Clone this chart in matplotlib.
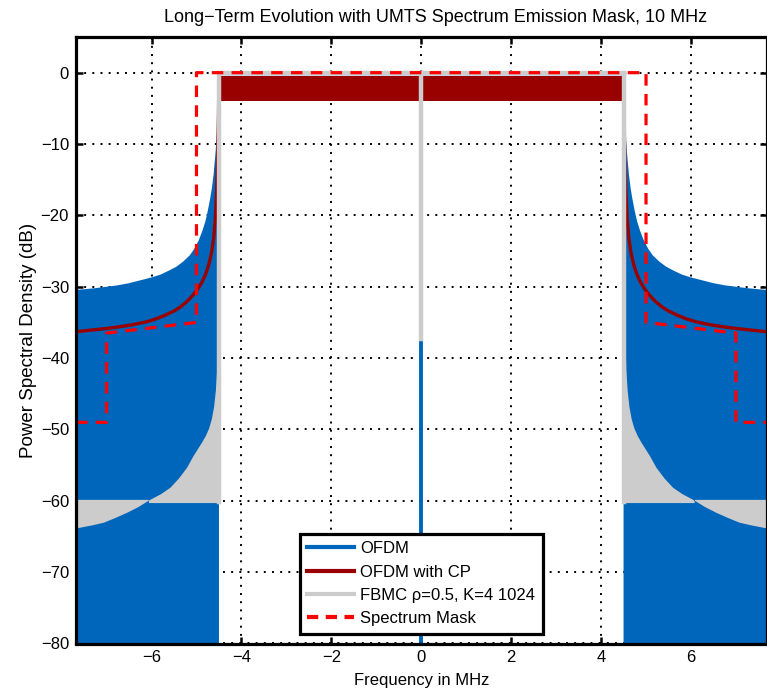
import matplotlib
matplotlib.use("Agg")
import matplotlib.pyplot as plt
from matplotlib.lines import Line2D

plt.rcParams['font.family'] = ['Liberation Sans', 'DejaVu Sans']

# ---------------- data ----------------
x_limits = [-7.68, 7.68]
y_limits = [-80, 5]
x_ticks = [-6, -4, -2, 0, 2, 4, 6]
y_ticks = [0, -10, -20, -30, -40, -50, -60, -70, -80]

band_edge_mhz = 4.5

# OFDM (no CP): upper envelope of the rapidly oscillating out-of-band PSD (left side)
ofdm_env_x = [-4.5, -4.52, -4.55, -4.58, -4.62, -4.66, -4.70, -4.75, -4.80, -4.87, -4.95,
              -5.05, -5.15, -5.3, -5.45, -5.6, -5.8, -6.0, -6.25, -6.5, -6.75, -7.0,
              -7.25, -7.5, -7.68]
ofdm_env_db = [-3.0, -6.0, -9.0, -11.5, -14.3, -16.3, -17.8, -19.4, -20.8, -22.2, -23.5,
               -24.7, -25.6, -26.5, -27.2, -27.7, -28.3, -28.7, -29.1, -29.5, -29.8, -30.0,
               -30.2, -30.35, -30.45]
ofdm_null_db = -100.0
ofdm_inband_db = 0.0
ofdm_dc_db = -100.0

# OFDM with CP (left side)
cp_x = [-4.5, -4.51, -4.53, -4.55, -4.58, -4.62, -4.67, -4.73, -4.80, -4.88, -4.97, -5.08,
        -5.2, -5.35, -5.5, -5.7, -5.9, -6.1, -6.4, -6.7, -7.0, -7.3, -7.68]
cp_db = [0.0, -6.0, -12.0, -16.5, -20.5, -23.3, -25.4, -27.0, -28.3, -29.4, -30.3, -31.2,
         -32.0, -32.8, -33.4, -34.0, -34.5, -34.9, -35.3, -35.6, -35.85, -36.05, -36.3]
cp_inband_max_db = -0.5
cp_inband_min_db = -3.9

# FBMC rho=0.5, K=4: oscillates between an envelope and a floor out of band (left side)
fbmc_x = [-4.5, -4.505, -4.515, -4.53, -4.55, -4.58, -4.62, -4.67, -4.73, -4.80, -4.88,
          -4.97, -5.08, -5.22, -5.4, -5.59, -5.8, -6.07, -6.07, -6.3, -6.55, -6.8, -7.07,
          -7.35, -7.68]
fbmc_env_db = [-5.0, -20.0, -30.0, -36.0, -41.5, -44.5, -46.8, -48.5, -49.8, -50.8, -51.7,
               -52.6, -53.7, -55.3, -56.8, -58.1, -59.0, -59.9, -59.9, -60.8, -61.6, -62.3,
               -63.0, -63.4, -63.8]
fbmc_floor_db = [-60.25, -60.25, -60.25, -60.25, -60.25, -60.25, -60.25, -60.25, -60.25,
                 -60.25, -60.25, -60.25, -60.25, -60.25, -60.25, -60.25, -60.25, -60.25,
                 -59.8, -59.8, -59.8, -59.8, -59.8, -59.8, -59.8]
fbmc_inband_db = 0.0
fbmc_edge_low_db = -60.2
fbmc_dc_db = -37.3

# UMTS spectrum emission mask
mask_x = [-7.68, -7.0, -7.0, -5.0, -5.0, 5.0, 5.0, 7.0, 7.0, 7.68]
mask_db = [-49.0, -49.0, -36.5, -35.0, 0.0, 0.0, -35.0, -36.5, -49.0, -49.0]

labels = ["OFDM", "OFDM with CP", "FBMC \u03c1=0.5, K=4 1024", "Spectrum Mask"]

# ---------------- styles ----------------
c_ofdm = '#0066BB'
c_cp = '#990000'
c_fbmc = '#CCCCCC'
c_mask = '#FF0000'
FS = 12

fig = plt.figure(figsize=(7.67, 6.90), dpi=100)
ax = fig.add_axes([76 / 767, (690 - 643.5) / 690, 690.5 / 767, 606.5 / 690])

def mirror(xs):
    return [-v for v in xs]

# OFDM
for xs in (ofdm_env_x, mirror(ofdm_env_x)):
    ax.fill_between(xs, ofdm_env_db, ofdm_null_db, color=c_ofdm, lw=0, zorder=2)
ax.plot([-band_edge_mhz, band_edge_mhz], [ofdm_inband_db, ofdm_inband_db], color=c_ofdm, lw=2.5, zorder=2)
ax.plot([0, 0], [ofdm_inband_db, ofdm_dc_db], color=c_ofdm, lw=2.8, zorder=2)

# OFDM with CP
ax.fill_between([-band_edge_mhz, band_edge_mhz], cp_inband_min_db, cp_inband_max_db, color=c_cp, lw=0, zorder=3)
for xs in (cp_x, mirror(cp_x)):
    ax.plot(xs, cp_db, color=c_cp, lw=2.4, zorder=3, solid_capstyle='butt')

# FBMC
for xs in (fbmc_x, mirror(fbmc_x)):
    ax.fill_between(xs, fbmc_env_db, fbmc_floor_db, color=c_fbmc, lw=0, zorder=4)
ax.plot([-band_edge_mhz, -band_edge_mhz, band_edge_mhz, band_edge_mhz],
        [fbmc_edge_low_db, fbmc_inband_db, fbmc_inband_db, fbmc_edge_low_db],
        color=c_fbmc, lw=3.2, zorder=4, solid_joinstyle='miter')
ax.plot([0, 0], [fbmc_inband_db, fbmc_dc_db], color=c_fbmc, lw=3.2, zorder=4)

# Mask
ax.plot(mask_x, mask_db, color=c_mask, lw=2.3, dashes=(3.6, 2.6), zorder=5)

ax.set_xlim(*x_limits)
ax.set_ylim(*y_limits)
ax.set_xticks(x_ticks)
ax.set_yticks(y_ticks)
ax.grid(True, color='black', linestyle=(0, (1, 3.2)), linewidth=1.4)
ax.set_axisbelow(True)
ax.tick_params(direction='in', length=5, width=1.8, top=True, right=True,
               labelsize=FS, pad=5, colors='black')
for s in ax.spines.values():
    s.set_linewidth(2.3)
    s.set_zorder(6)

ax.set_title("Long\u2212Term Evolution with UMTS Spectrum Emission Mask, 10 MHz",
             fontsize=13, pad=11, x=0.5214)
ax.set_xlabel("Frequency in MHz", fontsize=FS, labelpad=5.5)
ax.set_ylabel("Power Spectral Density (dB)", fontsize=13.5, labelpad=2.5)

handles = [Line2D([], [], color=c_ofdm, lw=3.0),
           Line2D([], [], color=c_cp, lw=3.0),
           Line2D([], [], color=c_fbmc, lw=3.0),
           Line2D([], [], color=c_mask, lw=3.0, dashes=(2.7, 1.8))]
leg = ax.legend(handles, labels, loc='lower center', bbox_to_anchor=(0.5, 0.016),
                borderaxespad=0, fontsize=FS, fancybox=False, framealpha=1,
                edgecolor='black', handlelength=2.8, handletextpad=0.36,
                labelspacing=0.5, borderpad=0.45)
leg.get_frame().set_linewidth(2.3)
leg.set_zorder(7)

fig.savefig("out.png", dpi=100)
